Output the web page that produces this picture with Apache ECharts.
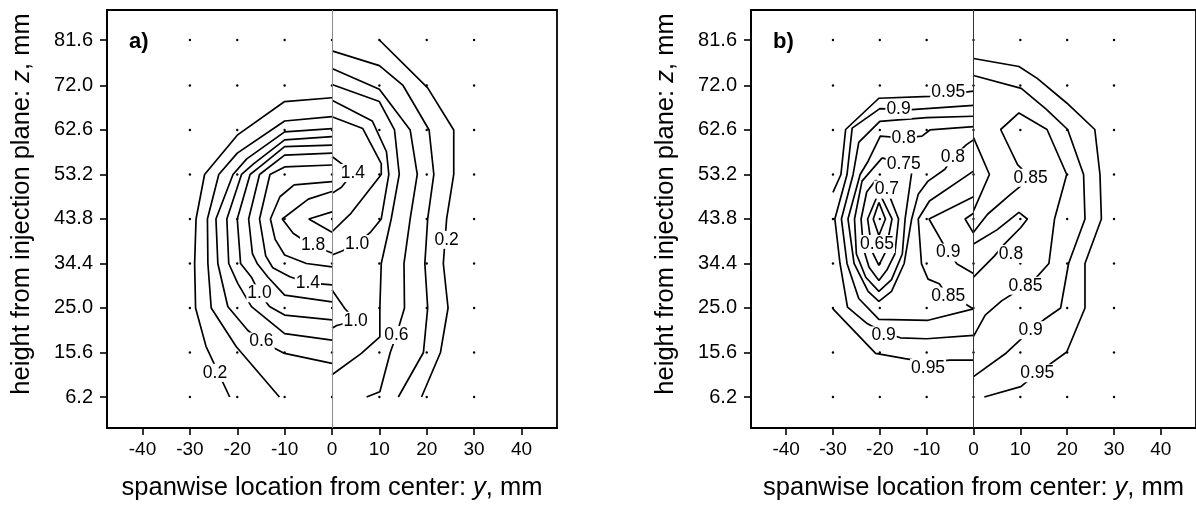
<!DOCTYPE html>
<html><head><meta charset="utf-8">
<script src="https://cdn.jsdelivr.net/npm/echarts/dist/echarts.min.js"></script>
<style>html,body{margin:0;padding:0;background:#fff}#c{width:1196px;height:506px}</style>
</head><body><div id="c"></div>
<script>
// ---------- axes / grid ----------
const xTicks = [-40,-30,-20,-10,0,10,20,30,40];
const zTicks = [6.2,15.6,25.0,34.4,43.8,53.2,62.6,72.0,81.6];
const gridCols = [-30,-20,-10,0,10,20,30];
const panelTags = ['a)','b)'];

// ---------- panel a, left half (y, z) ----------
const aL02 = [[0,69.4],[-10,68.6],[-20,61.5],[-26.9,53.2],[-28.7,43.8],[-29,34.4],[-28.8,25],[-26.6,16.9],[-21.6,6.2]];
const aL04 = [[0,65.4],[-10,64.5],[-20,57.7],[-23.9,53.2],[-26.3,43.8],[-26.2,34.4],[-25.5,25],[-20.2,16.8],[-11.1,6.2]];
const aL06 = [[0,62.9],[-10,62.2],[-18,56.5],[-20.9,53.2],[-24.5,43.8],[-24.1,34.4],[-22,25.3],[-17.8,20.3],[-14.9,17.9],[-10,15.4],[0,13.3]];
const aL08 = [[0,61.2],[-10,60.5],[-16.5,55.5],[-19.1,53.2],[-22.2,43.8],[-21.8,34.4],[-19.9,30.2],[-17,25.3],[-10,19.6],[0,18.2]];
const aL10 = [[0,59.4],[-10,59.1],[-15,55],[-17.3,53.2],[-20,43.8],[-19.3,34.4],[-17,31.5],[-15.3,28.1],[-13.2,25.3],[-10,23.5],[0,22.5]];
const aL12 = [[0,57.7],[-10,57.3],[-15.3,53.2],[-17.6,43.8],[-16.8,36.5],[-15.8,34.4],[-13.5,31.5],[-10,27.7],[0,26.3]];
const aL14 = [[0,55.2],[-10,54.8],[-13.1,53.2],[-15.3,43.8],[-14,36],[-12.5,33.5],[-8.9,31.6],[-5.1,30.3],[0,29.9]];
const aL16 = [[0,51.7],[-8,51],[-11,48.5],[-13,43.8],[-12,39.5],[-10,36.2],[-5.4,34.4],[0,33.7]];
const aL18 = [[0,49.6],[-5,48],[-10.5,43.8],[-8.2,40.8],[-4.5,38.3],[0,36.6]];
const aL20 = [[0,45.3],[-4.9,43.8],[0,41.0]];
// ---------- panel a, right half ----------
const aR02 = [[10,81.6],[20.2,71.5],[25.7,62.6],[25.7,53.2],[24.2,43.8],[23.5,34.4],[24.5,25],[22.9,15.6],[18.9,6.2]];
const aR04 = [[0,79.3],[10,76.2],[15,72],[20.5,62.6],[21.5,53.2],[20.2,43.8],[19.6,34.4],[20.2,25],[19.3,15.6],[14,6.2]];
const aR06 = [[0,75.6],[10,71.2],[16.5,62.6],[18,53.2],[16.5,43.8],[15.2,34.4],[15.3,25],[13.6,19.3],[12.3,15.6],[10.1,7.3],[7.3,6.2]];
const aR08 = [[0,72.2],[10,68.6],[13.2,62.6],[14.2,53.2],[12.5,43.8],[10.4,34.4],[10.1,25],[10.1,18.9],[6.2,15.4],[0,10.9]];
const aR10a = [[0,68.9],[8.5,64.5],[11.5,58],[12,53.2],[10.4,43.8],[8.2,41.1],[5.3,38.5],[2,37],[0,36.2]];
const aR10b = [[0,28.8],[2.7,24.9],[5,22.3],[1,21.3],[0,20.7]];
const aR12 = [[0,65.4],[6.5,62.9],[10.4,55.5],[10.4,53.2],[4,45],[0,41.1]];
const aR14 = [[0,57],[2,55.5],[4.4,53.5],[2,50.5],[0,49.2]];
// labels panel a: [y, z, text]
const aLabels = [[-24.7,11.3,'0.2'],[-14.9,17.9,'0.6'],[-15.3,28.1,'1.0'],[-5.1,30.3,'1.4'],[-4.0,38.3,'1.8'],
                 [24.2,39.4,'0.2'],[13.6,19.3,'0.6'],[5.3,38.5,'1.0'],[5.0,22.3,'1.0'],[4.4,53.5,'1.4']];

// ---------- panel b, left half ----------
const bL095a = [[0,70.8],[-9.3,69.7],[-20.2,69.3],[-27.3,62.7],[-28.3,53.2],[-30,49.4]];
const bL095b = [[-30,24.8],[-20.9,15.4],[-14.6,14.3],[-9.7,13.5],[-5.1,14.0],[0,14.0]];
const bL09 = [[0,67.8],[-13.2,66.9],[-20,67.1],[-25.9,63],[-27,53.2],[-29.6,43.8],[-28.5,34.4],[-26.9,25.2],[-22.7,21.7],[-19.2,19.8],[-15.6,18.7],[-10,18.5],[0,19.2]];
const bL085 = [[0,65.5],[-10,65.2],[-20,64.4],[-24.5,60],[-25.7,53.2],[-28.2,43.8],[-27,34.4],[-24.5,27],[-20.2,22.6],[-9.7,22.4],[0,24.8]];
const bL085b = [[0,53.9],[-9.4,47.6],[-11.8,43.8],[-11.1,34.3],[-9.7,31.1],[-7.3,30.1],[-5.4,27.4],[-2,26],[0,24.8]];
const bL08 = [[0,63.3],[-9.3,62.6],[-11,61.3],[-14.9,60.9],[-19.9,61.3],[-22.5,56],[-24.2,53.2],[-26.8,43.8],[-25.5,34.4],[-22.5,28.5],[-20.2,26.4],[-17.5,28.5],[-14.8,34.4],[-13.2,43.8],[-11.8,49],[-9.7,51.8],[-6.1,54.3],[-4.4,56.8],[-1.5,59.5],[0,60.5]];
const bL075 = [[-19.5,56.7],[-14.9,55.3],[-13.2,53.6],[-14.6,43.8],[-15.2,36.4],[-17.5,31],[-20.2,28.5],[-23,31.5],[-25,36.4],[-25.4,43.8],[-23.8,51.8],[-19.5,56.7]];
const bL07 = [[-20.9,52],[-18.5,50.1],[-16,43.8],[-16.8,36.4],[-18.5,33],[-20.2,30.8],[-22.3,33.6],[-23.5,37.5],[-24,43.8],[-22.8,49.5],[-20.9,52]];
const bL065 = [[-20.2,49.5],[-17.4,43.8],[-18.8,36.8],[-20.2,34],[-21.6,36.8],[-22.6,43.8],[-20.2,49.5]];
const bL06 = [[-20.2,47.3],[-18.8,43.8],[-20.2,40.3],[-21.4,43.8],[-20.2,47.3]];
const bL09v = [[0,48.5],[-9.5,43.8],[-5.4,36.7],[-3.5,34.3],[0,32.3]];
const bL085c = [[0,45],[-1.8,43.8],[0,40.8]];
// ---------- panel b, right half ----------
const bR095 = [[0,77.7],[9.7,76.0],[13.6,73.5],[19.9,68.3],[25.9,62.7],[27.0,53.2],[27.3,43.8],[23.8,34.4],[23.8,25],[19.9,15.7],[13.6,11.2],[10.1,8.4],[2.3,6.2]];
const bR09 = [[0,74.1],[10.2,71.4],[15.5,67],[20.1,62.7],[23.5,53.2],[23.8,43.8],[20.3,34.4],[18.6,25],[15,22.5],[12.2,20.3],[7,15.5],[0,10.5]];
const bR085 = [[0,41.0],[3,44.8],[7.9,49],[12.2,52.5],[9.4,55.3],[5.8,62.7],[9.7,66.2],[15.7,62.7],[19.9,53.2],[17.3,43.8],[16.1,34.4],[13,31],[11.1,29.7],[6,26.5],[2.5,23.5],[0,19]];
const bR08 = [[0,38.5],[5,41.5],[9.7,45.2],[11.5,43.8],[10.1,42],[6.6,38.5],[4.5,36],[0,31.5]];
const bR08b = [[0,61],[3.4,53.2],[0,45.5]];
const bLabels = [[-5.4,70.6,'0.95'],[-16,66.9,'0.9'],[-14.9,60.9,'0.8'],[-14.9,55.3,'0.75'],[-18.5,50.0,'0.7'],
                 [-20.6,38.5,'0.65'],[-4.4,56.8,'0.8'],[-5.4,36.7,'0.9'],[-5.4,27.4,'0.85'],[-19.2,19.2,'0.9'],[-9.7,12.3,'0.95'],
                 [12.2,52.5,'0.85'],[8.0,36.4,'0.8'],[11.1,29.7,'0.85'],[12.2,20.3,'0.9'],[13.6,11.2,'0.95']];

const linesA = [aL02,aL04,aL06,aL08,aL10,aL12,aL14,aL16,aL18,aL20,aR02,aR04,aR06,aR08,aR10a,aR10b,aR12,aR14];
const linesB = [bL095a,bL095b,bL09,bL085,bL085b,bL08,bL075,bL07,bL065,bL06,bL09v,bL085c,bR095,bR09,bR085,bR08,bR08b];

// ---------- build ----------
const FONT = 'Liberation Sans, Arial, Helvetica, sans-serif';
const ZMIN = -0.35, ZMAX = 87.94;
const dots = [];
gridCols.forEach(x => zTicks.forEach(z => dots.push([x, z])));

function xAxisFor(i) {
  return {
    type: 'value', gridIndex: i, min: -47.5, max: 47.5,
    axisLine: {show: true, onZero: false, lineStyle: {color: '#000', width: 1.8}},
    axisTick: {show: true, customValues: xTicks, length: 7, lineStyle: {color: '#000', width: 1.6}},
    axisLabel: {customValues: xTicks, fontSize: 19, color: '#000', margin: 12, fontFamily: FONT},
    splitLine: {show: false},
    name: 'spanwise location from center: {i|y}, mm', nameLocation: 'middle', nameGap: 47,
    nameTextStyle: {fontSize: 25.5, color: '#000', fontFamily: FONT,
      rich: {i: {fontStyle: 'italic', fontSize: 25.5, color: '#000', fontFamily: FONT}}}
  };
}
function yAxisFor(i) {
  return {
    type: 'value', gridIndex: i, min: ZMIN, max: ZMAX,
    axisLine: {show: true, onZero: false, lineStyle: {color: '#000', width: 1.8}},
    axisTick: {show: true, customValues: zTicks, length: 7, lineStyle: {color: '#000', width: 1.6}},
    axisLabel: {customValues: zTicks, fontSize: 20, color: '#000', margin: 14, fontFamily: FONT,
      formatter: v => Number(v).toFixed(1)},
    splitLine: {show: false},
    name: 'height from injection plane: {i|z}, mm', nameLocation: 'middle', nameGap: 72, nameRotate: 90,
    nameTextStyle: {fontSize: 25.5, color: '#000', fontFamily: FONT, padding: [0, 0, 0, 30],
      rich: {i: {fontStyle: 'italic', fontSize: 25.5, color: '#000', fontFamily: FONT}}}
  };
}

const series = [];
[0, 1].forEach(i => {
  series.push({
    type: 'scatter', xAxisIndex: i, yAxisIndex: i, data: dots, symbolSize: 2.4,
    itemStyle: {color: '#000', opacity: 1}, silent: true, z: 1,
    markLine: {silent: true, symbol: 'none', animation: false,
      data: [{xAxis: 0}], label: {show: false},
      lineStyle: {color: i === 0 ? '#8a8a8a' : '#333', width: 1, type: 'solid', opacity: 1}}
  });
  (i === 0 ? linesA : linesB).forEach(d => series.push({
    type: 'line', xAxisIndex: i, yAxisIndex: i, data: d, symbol: 'none', silent: true,
    lineStyle: {color: '#000', width: 1.7}, z: 2
  }));
  series.push({
    type: 'scatter', xAxisIndex: i, yAxisIndex: i, data: i === 0 ? aLabels : bLabels,
    symbolSize: 1, itemStyle: {color: 'rgba(0,0,0,0)', opacity: 1}, silent: true, z: 5,
    label: {show: true, position: 'inside', formatter: p => p.value[2], fontSize: 17.5, color: '#000',
      opacity: 1, fontFamily: FONT, backgroundColor: '#fff', padding: [0, 1]}
  });
});

const chart = echarts.init(document.getElementById('c'), null, {renderer: 'canvas'});
chart.setOption({
  animation: false,
  backgroundColor: '#fff',
  textStyle: {fontFamily: FONT},
  grid: [
    {left: 107, top: 10, width: 450, height: 418, show: true, borderColor: '#000', borderWidth: 1.8, backgroundColor: 'transparent'},
    {left: 751, top: 10, width: 449, height: 418, show: true, borderColor: '#000', borderWidth: 1.8, backgroundColor: 'transparent'}
  ],
  xAxis: [xAxisFor(0), xAxisFor(1)],
  yAxis: [yAxisFor(0), yAxisFor(1)],
  graphic: [
    {type: 'text', left: 129, top: 31, style: {text: panelTags[0], font: 'bold 22px ' + FONT, fill: '#000'}},
    {type: 'text', left: 773, top: 31, style: {text: panelTags[1], font: 'bold 22px ' + FONT, fill: '#000'}}
  ],
  series: series
});
</script>
</body></html>
